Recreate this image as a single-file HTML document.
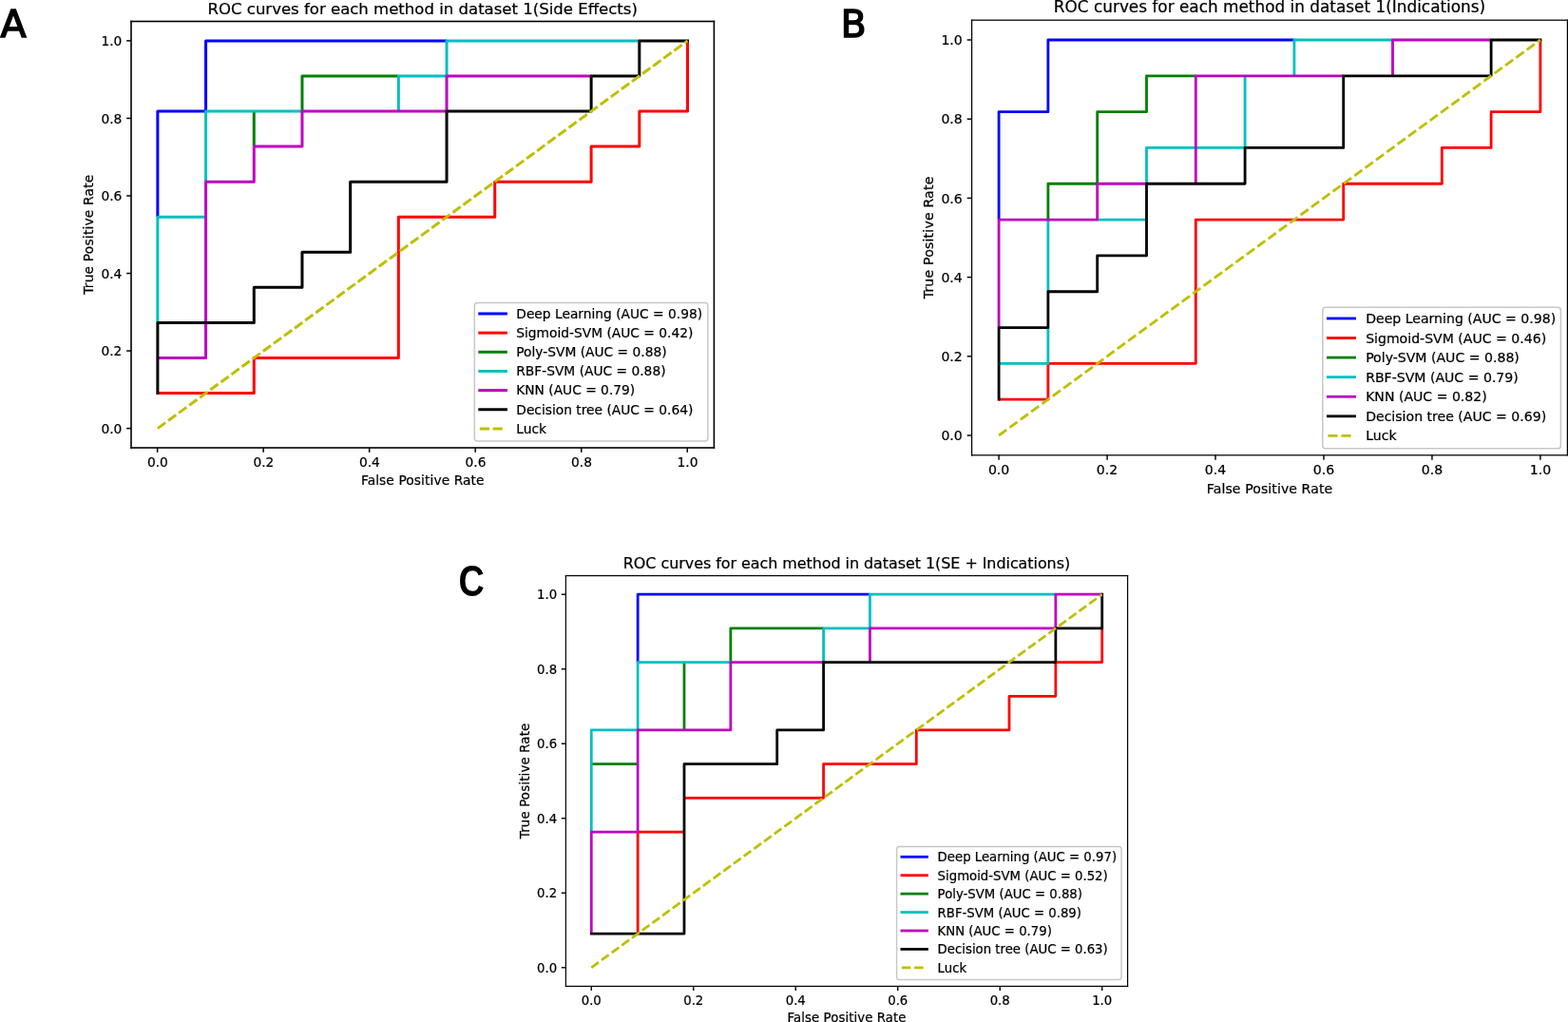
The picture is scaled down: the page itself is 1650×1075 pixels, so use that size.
<!DOCTYPE html>
<html lang="en">
<head>
<meta charset="utf-8">
<title>ROC curves for each method in dataset 1</title>
<style>
html,body{margin:0;padding:0;background:#fff;}
body{width:1650px;height:1075px;overflow:hidden;}
svg{display:block;position:absolute;left:0;top:0;}
text{white-space:pre;}
</style>
</head>
<body>
<svg width="1650" height="1075" viewBox="0 0 1650 1075">
<rect x="0" y="0" width="1650" height="1075" fill="#fff"/>
<!-- Panel A -->
<g>
<path d="M165.88 228.22 L165.88 117.02 L216.58 117.02 L216.58 42.89 L470.05 42.89" fill="none" stroke="#0000ff" stroke-width="3" stroke-linejoin="round"/>
<path d="M165.88 413.55 L267.27 413.55 L267.27 376.48 L419.35 376.48 L419.35 228.22 L520.74 228.22 L520.74 191.15 L622.13 191.15 L622.13 154.08 L672.82 154.08 L672.82 117.02 L723.52 117.02 L723.52 42.89" fill="none" stroke="#ff0000" stroke-width="3" stroke-linejoin="round"/>
<path d="M267.27 154.08 L267.27 117.02 M317.96 117.02 L317.96 79.95 L419.35 79.95" fill="none" stroke="#008000" stroke-width="3" stroke-linejoin="round"/>
<path d="M165.88 339.42 L165.88 228.22 L216.58 228.22 M216.58 191.15 L216.58 117.02 L317.96 117.02 M419.35 117.02 L419.35 79.95 L470.05 79.95 L470.05 42.89 L672.82 42.89" fill="none" stroke="#00bfbf" stroke-width="3" stroke-linejoin="round"/>
<path d="M165.88 376.48 L216.58 376.48 L216.58 191.15 L267.27 191.15 L267.27 154.08 L317.96 154.08 L317.96 117.02 L470.05 117.02 L470.05 79.95 L622.13 79.95" fill="none" stroke="#bf00bf" stroke-width="3" stroke-linejoin="round"/>
<path d="M165.88 415.05 L165.88 339.42 L267.27 339.42 L267.27 302.35 L317.96 302.35 L317.96 265.28 L368.66 265.28 L368.66 191.15 L470.05 191.15 L470.05 117.02 L622.13 117.02 L622.13 79.95 L672.82 79.95 L672.82 42.89 L725.02 42.89" fill="none" stroke="#000000" stroke-width="3" stroke-linejoin="round"/>
<path d="M165.88 450.61 L723.52 42.89" fill="none" stroke="#bfbf00" stroke-width="3" stroke-dasharray="10.2 3.54"/>
<g fill="#000">
<rect x="137.2" y="21.7" width="1.6" height="450.1"/>
<rect x="750.6" y="21.7" width="1.6" height="450.1"/>
<rect x="137.2" y="21.7" width="615" height="1.6"/>
<rect x="137.2" y="470.2" width="615" height="1.6"/>
</g>
<g stroke="#000" stroke-width="1.5">
<line x1="165.63" y1="471" x2="165.63" y2="475.83"/>
<line x1="138" y1="450.61" x2="133.17" y2="450.61"/>
<line x1="277.16" y1="471" x2="277.16" y2="475.83"/>
<line x1="138" y1="369.07" x2="133.17" y2="369.07"/>
<line x1="388.69" y1="471" x2="388.69" y2="475.83"/>
<line x1="138" y1="287.52" x2="133.17" y2="287.52"/>
<line x1="500.21" y1="471" x2="500.21" y2="475.83"/>
<line x1="138" y1="205.98" x2="133.17" y2="205.98"/>
<line x1="611.74" y1="471" x2="611.74" y2="475.83"/>
<line x1="138" y1="124.43" x2="133.17" y2="124.43"/>
<line x1="723.27" y1="471" x2="723.27" y2="475.83"/>
<line x1="138" y1="42.89" x2="133.17" y2="42.89"/>
</g>
<g font-family='"DejaVu Sans", "Liberation Sans", sans-serif' font-size="13.79" fill="#000" stroke="#000" stroke-width="0.22">
<text x="165.88" y="490.81" text-anchor="middle">0.0</text>
<text x="128.37" y="455.68" text-anchor="end">0.0</text>
<text x="277.41" y="490.81" text-anchor="middle">0.2</text>
<text x="128.37" y="374.13" text-anchor="end">0.2</text>
<text x="388.94" y="490.81" text-anchor="middle">0.4</text>
<text x="128.37" y="292.59" text-anchor="end">0.4</text>
<text x="500.46" y="490.81" text-anchor="middle">0.6</text>
<text x="128.37" y="211.04" text-anchor="end">0.6</text>
<text x="611.99" y="490.81" text-anchor="middle">0.8</text>
<text x="128.37" y="129.5" text-anchor="end">0.8</text>
<text x="723.52" y="490.81" text-anchor="middle">1.0</text>
<text x="128.37" y="47.95" text-anchor="end">1.0</text>
<text x="444.7" y="509.63" text-anchor="middle" textLength="129.65">False Positive Rate</text>
<text transform="translate(98.08 246.75) rotate(-90)" text-anchor="middle" textLength="126.05">True Positive Rate</text>
</g>
<text x="444.7" y="14.56" text-anchor="middle" font-family='"DejaVu Sans", "Liberation Sans", sans-serif' font-size="16.55" fill="#000" stroke="#000" stroke-width="0.22">ROC curves for each method in dataset 1(Side Effects)</text>
<rect x="499.3" y="318.55" width="245.6" height="145.55" rx="3.03" fill="#fff" fill-opacity="0.8" stroke="#c8c8c8" stroke-width="1.52"/>
<g font-family='"DejaVu Sans", "Liberation Sans", sans-serif' font-size="13.79" fill="#000" stroke="#000" stroke-width="0.22">
<line x1="504.82" y1="329.96" x2="532.4" y2="329.96" stroke="#0000ff" stroke-width="3" stroke-linecap="square"/>
<text x="543.28" y="334.83">Deep Learning (AUC = 0.98)</text>
<line x1="504.82" y1="350.12" x2="532.4" y2="350.12" stroke="#ff0000" stroke-width="3" stroke-linecap="square"/>
<text x="543.28" y="354.99">Sigmoid-SVM (AUC = 0.42)</text>
<line x1="504.82" y1="370.28" x2="532.4" y2="370.28" stroke="#008000" stroke-width="3" stroke-linecap="square"/>
<text x="543.28" y="375.15">Poly-SVM (AUC = 0.88)</text>
<line x1="504.82" y1="390.44" x2="532.4" y2="390.44" stroke="#00bfbf" stroke-width="3" stroke-linecap="square"/>
<text x="543.28" y="395.31">RBF-SVM (AUC = 0.88)</text>
<line x1="504.82" y1="410.6" x2="532.4" y2="410.6" stroke="#bf00bf" stroke-width="3" stroke-linecap="square"/>
<text x="543.28" y="415.47">KNN (AUC = 0.79)</text>
<line x1="504.82" y1="430.76" x2="532.4" y2="430.76" stroke="#000000" stroke-width="3" stroke-linecap="square"/>
<text x="543.28" y="435.63">Decision tree (AUC = 0.64)</text>
<line x1="504.82" y1="450.92" x2="532.4" y2="450.92" stroke="#bfbf00" stroke-width="3" stroke-dasharray="10.2 3.54"/>
<text x="543.28" y="455.79">Luck</text>
</g>
</g>
<text transform="translate(0.6 39.15) scale(1.0 1)" font-family='"DejaVu Sans", "Liberation Sans", sans-serif' font-size="39.7" fill="#000" stroke="#000" stroke-width="1.5" stroke-linejoin="miter">A</text>
<!-- Panel B -->
<g>
<path d="M1051.09 231.09 L1051.09 117.64 L1102.89 117.64 L1102.89 42 L1361.9 42" fill="none" stroke="#0000ff" stroke-width="2.82" stroke-linejoin="round"/>
<path d="M1051.09 420.18 L1102.89 420.18 L1102.89 382.36 L1258.3 382.36 L1258.3 231.09 L1413.7 231.09 L1413.7 193.27 L1517.31 193.27 L1517.31 155.45 L1569.11 155.45 L1569.11 117.64 L1620.91 117.64 L1620.91 42" fill="none" stroke="#ff0000" stroke-width="2.82" stroke-linejoin="round"/>
<path d="M1102.89 231.09 L1102.89 193.27 L1154.69 193.27 L1154.69 117.64 L1206.5 117.64 L1206.5 79.82 L1258.3 79.82" fill="none" stroke="#008000" stroke-width="2.82" stroke-linejoin="round"/>
<path d="M1051.09 382.36 L1102.89 382.36 L1102.89 344.55 M1102.89 306.73 L1102.89 231.09 M1154.69 231.09 L1206.5 231.09 M1206.5 193.27 L1206.5 155.45 L1310.1 155.45 L1310.1 79.82 M1361.9 79.82 L1361.9 42 L1465.5 42" fill="none" stroke="#00bfbf" stroke-width="2.82" stroke-linejoin="round"/>
<path d="M1051.09 344.55 L1051.09 231.09 L1154.69 231.09 L1154.69 193.27 L1206.5 193.27 M1258.3 193.27 L1258.3 79.82 L1413.7 79.82 M1465.5 79.82 L1465.5 42 L1569.11 42" fill="none" stroke="#bf00bf" stroke-width="2.82" stroke-linejoin="round"/>
<path d="M1051.09 421.59 L1051.09 344.55 L1102.89 344.55 L1102.89 306.73 L1154.69 306.73 L1154.69 268.91 L1206.5 268.91 L1206.5 193.27 L1310.1 193.27 L1310.1 155.45 L1413.7 155.45 L1413.7 79.82 L1569.11 79.82 L1569.11 42 L1622.32 42" fill="none" stroke="#000000" stroke-width="2.82" stroke-linejoin="round"/>
<path d="M1051.09 458 L1620.91 42" fill="none" stroke="#bfbf00" stroke-width="2.82" stroke-dasharray="10.1 3.94"/>
<g fill="#000">
<rect x="1021.98" y="20.57" width="1.25" height="458.85"/>
<rect x="1648.78" y="20.57" width="1.25" height="458.85"/>
<rect x="1021.98" y="20.57" width="628.05" height="1.25"/>
<rect x="1021.98" y="478.18" width="628.05" height="1.25"/>
</g>
<g stroke="#000" stroke-width="1.45">
<line x1="1051.09" y1="478.8" x2="1051.09" y2="483.73"/>
<line x1="1022.6" y1="458" x2="1017.67" y2="458"/>
<line x1="1165.05" y1="478.8" x2="1165.05" y2="483.73"/>
<line x1="1022.6" y1="374.8" x2="1017.67" y2="374.8"/>
<line x1="1279.02" y1="478.8" x2="1279.02" y2="483.73"/>
<line x1="1022.6" y1="291.6" x2="1017.67" y2="291.6"/>
<line x1="1392.98" y1="478.8" x2="1392.98" y2="483.73"/>
<line x1="1022.6" y1="208.4" x2="1017.67" y2="208.4"/>
<line x1="1506.95" y1="478.8" x2="1506.95" y2="483.73"/>
<line x1="1022.6" y1="125.2" x2="1017.67" y2="125.2"/>
<line x1="1620.91" y1="478.8" x2="1620.91" y2="483.73"/>
<line x1="1022.6" y1="42" x2="1017.67" y2="42"/>
</g>
<g font-family='"DejaVu Sans", "Liberation Sans", sans-serif' font-size="14.08" fill="#000" stroke="#000" stroke-width="0.22">
<text x="1051.09" y="499.37" text-anchor="middle">0.0</text>
<text x="1012.77" y="463.17" text-anchor="end">0.0</text>
<text x="1165.05" y="499.37" text-anchor="middle">0.2</text>
<text x="1012.77" y="379.97" text-anchor="end">0.2</text>
<text x="1279.02" y="499.37" text-anchor="middle">0.4</text>
<text x="1012.77" y="296.77" text-anchor="end">0.4</text>
<text x="1392.98" y="499.37" text-anchor="middle">0.6</text>
<text x="1012.77" y="213.57" text-anchor="end">0.6</text>
<text x="1506.95" y="499.37" text-anchor="middle">0.8</text>
<text x="1012.77" y="130.37" text-anchor="end">0.8</text>
<text x="1620.91" y="499.37" text-anchor="middle">1.0</text>
<text x="1012.77" y="47.17" text-anchor="end">1.0</text>
<text x="1336" y="519.03" text-anchor="middle" textLength="132.31">False Positive Rate</text>
<text transform="translate(981.86 250) rotate(-90)" text-anchor="middle" textLength="128.64">True Positive Rate</text>
</g>
<text x="1336" y="13.09" text-anchor="middle" font-family='"DejaVu Sans", "Liberation Sans", sans-serif' font-size="16.89" fill="#000" stroke="#000" stroke-width="0.22">ROC curves for each method in dataset 1(Indications)</text>
<rect x="1391.8" y="323.3" width="250.6" height="148.5" rx="3.1" fill="#fff" fill-opacity="0.8" stroke="#c8c8c8" stroke-width="1.55"/>
<g font-family='"DejaVu Sans", "Liberation Sans", sans-serif' font-size="14.08" fill="#000" stroke="#000" stroke-width="0.22">
<line x1="1397.43" y1="334.96" x2="1425.58" y2="334.96" stroke="#0000ff" stroke-width="2.82" stroke-linecap="square"/>
<text x="1437.14" y="339.93">Deep Learning (AUC = 0.98)</text>
<line x1="1397.43" y1="355.53" x2="1425.58" y2="355.53" stroke="#ff0000" stroke-width="2.82" stroke-linecap="square"/>
<text x="1437.14" y="360.5">Sigmoid-SVM (AUC = 0.46)</text>
<line x1="1397.43" y1="376.1" x2="1425.58" y2="376.1" stroke="#008000" stroke-width="2.82" stroke-linecap="square"/>
<text x="1437.14" y="381.07">Poly-SVM (AUC = 0.88)</text>
<line x1="1397.43" y1="396.67" x2="1425.58" y2="396.67" stroke="#00bfbf" stroke-width="2.82" stroke-linecap="square"/>
<text x="1437.14" y="401.64">RBF-SVM (AUC = 0.79)</text>
<line x1="1397.43" y1="417.24" x2="1425.58" y2="417.24" stroke="#bf00bf" stroke-width="2.82" stroke-linecap="square"/>
<text x="1437.14" y="422.21">KNN (AUC = 0.82)</text>
<line x1="1397.43" y1="437.81" x2="1425.58" y2="437.81" stroke="#000000" stroke-width="2.82" stroke-linecap="square"/>
<text x="1437.14" y="442.78">Decision tree (AUC = 0.69)</text>
<line x1="1397.43" y1="458.38" x2="1425.58" y2="458.38" stroke="#bfbf00" stroke-width="2.82" stroke-dasharray="10.1 3.94"/>
<text x="1437.14" y="463.35">Luck</text>
</g>
</g>
<text transform="translate(884.8 39.15) scale(0.985 1)" font-family='"DejaVu Sans", "Liberation Sans", sans-serif' font-size="39.7" fill="#000" stroke="#000" stroke-width="1.5" stroke-linejoin="miter">B</text>
<!-- Panel C -->
<g>
<path d="M671.13 696.6 L671.13 625.23 L915.43 625.23" fill="none" stroke="#0000ff" stroke-width="2.78" stroke-linejoin="round"/>
<path d="M671.13 982.09 L671.13 875.03 L719.99 875.03 M719.99 839.34 L866.57 839.34 L866.57 803.66 L964.29 803.66 L964.29 767.97 L1062.01 767.97 L1062.01 732.29 L1110.87 732.29 L1110.87 696.6 L1159.73 696.6 L1159.73 660.91" fill="none" stroke="#ff0000" stroke-width="2.78" stroke-linejoin="round"/>
<path d="M622.27 803.66 L671.13 803.66 M719.99 767.97 L719.99 696.6 M768.85 696.6 L768.85 660.91 L866.57 660.91" fill="none" stroke="#008000" stroke-width="2.78" stroke-linejoin="round"/>
<path d="M622.27 875.03 L622.27 767.97 L671.13 767.97 L671.13 696.6 L768.85 696.6 M866.57 696.6 L866.57 660.91 L915.43 660.91 L915.43 625.23 L1110.87 625.23" fill="none" stroke="#00bfbf" stroke-width="2.78" stroke-linejoin="round"/>
<path d="M622.27 982.09 L622.27 875.03 L671.13 875.03 L671.13 767.97 L768.85 767.97 L768.85 696.6 L866.57 696.6 M915.43 696.6 L915.43 660.91 L1110.87 660.91 L1110.87 625.23 L1159.73 625.23" fill="none" stroke="#bf00bf" stroke-width="2.78" stroke-linejoin="round"/>
<path d="M620.88 982.09 L719.99 982.09 L719.99 803.66 L817.71 803.66 L817.71 767.97 L866.57 767.97 L866.57 696.6 L1110.87 696.6 L1110.87 660.91 L1159.73 660.91 L1159.73 623.84" fill="none" stroke="#000000" stroke-width="2.78" stroke-linejoin="round"/>
<path d="M622.27 1017.77 L1159.73 625.23" fill="none" stroke="#bfbf00" stroke-width="2.78" stroke-dasharray="9.55 3.69"/>
<g fill="#000">
<rect x="594.8" y="605" width="1.2" height="433"/>
<rect x="1186" y="605" width="1.2" height="433"/>
<rect x="594.8" y="605" width="592.4" height="1.2"/>
<rect x="594.8" y="1036.8" width="592.4" height="1.2"/>
</g>
<g stroke="#000" stroke-width="1.4">
<line x1="622.27" y1="1037.4" x2="622.27" y2="1042.05"/>
<line x1="595.4" y1="1017.77" x2="590.75" y2="1017.77"/>
<line x1="729.76" y1="1037.4" x2="729.76" y2="1042.05"/>
<line x1="595.4" y1="939.26" x2="590.75" y2="939.26"/>
<line x1="837.25" y1="1037.4" x2="837.25" y2="1042.05"/>
<line x1="595.4" y1="860.75" x2="590.75" y2="860.75"/>
<line x1="944.75" y1="1037.4" x2="944.75" y2="1042.05"/>
<line x1="595.4" y1="782.25" x2="590.75" y2="782.25"/>
<line x1="1052.24" y1="1037.4" x2="1052.24" y2="1042.05"/>
<line x1="595.4" y1="703.74" x2="590.75" y2="703.74"/>
<line x1="1159.73" y1="1037.4" x2="1159.73" y2="1042.05"/>
<line x1="595.4" y1="625.23" x2="590.75" y2="625.23"/>
</g>
<g font-family='"DejaVu Sans", "Liberation Sans", sans-serif' font-size="13.28" fill="#000" stroke="#000" stroke-width="0.22">
<text x="622.27" y="1056.81" text-anchor="middle">0.0</text>
<text x="586.12" y="1022.65" text-anchor="end">0.0</text>
<text x="729.76" y="1056.81" text-anchor="middle">0.2</text>
<text x="586.12" y="944.14" text-anchor="end">0.2</text>
<text x="837.25" y="1056.81" text-anchor="middle">0.4</text>
<text x="586.12" y="865.63" text-anchor="end">0.4</text>
<text x="944.75" y="1056.81" text-anchor="middle">0.6</text>
<text x="586.12" y="787.12" text-anchor="end">0.6</text>
<text x="1052.24" y="1056.81" text-anchor="middle">0.8</text>
<text x="586.12" y="708.61" text-anchor="end">0.8</text>
<text x="1159.73" y="1056.81" text-anchor="middle">1.0</text>
<text x="586.12" y="630.1" text-anchor="end">1.0</text>
<text x="891" y="1074.6" text-anchor="middle" textLength="124.87">False Positive Rate</text>
<text transform="translate(556.95 821.5) rotate(-90)" text-anchor="middle" textLength="121.4">True Positive Rate</text>
</g>
<text x="891" y="597.95" text-anchor="middle" textLength="470.3" font-family='"DejaVu Sans", "Liberation Sans", sans-serif' font-size="15.94" fill="#000" stroke="#000" stroke-width="0.22">ROC curves for each method in dataset 1(SE + Indications)</text>
<rect x="943.6" y="890.6" width="236.45" height="139.9" rx="2.92" fill="#fff" fill-opacity="0.8" stroke="#c8c8c8" stroke-width="1.46"/>
<g font-family='"DejaVu Sans", "Liberation Sans", sans-serif' font-size="13.28" fill="#000" stroke="#000" stroke-width="0.22">
<line x1="948.91" y1="901.3" x2="975.48" y2="901.3" stroke="#0000ff" stroke-width="2.78" stroke-linecap="square"/>
<text x="986.61" y="906.37">Deep Learning (AUC = 0.97)</text>
<line x1="948.91" y1="920.72" x2="975.48" y2="920.72" stroke="#ff0000" stroke-width="2.78" stroke-linecap="square"/>
<text x="986.61" y="925.79">Sigmoid-SVM (AUC = 0.52)</text>
<line x1="948.91" y1="940.14" x2="975.48" y2="940.14" stroke="#008000" stroke-width="2.78" stroke-linecap="square"/>
<text x="986.61" y="945.21">Poly-SVM (AUC = 0.88)</text>
<line x1="948.91" y1="959.56" x2="975.48" y2="959.56" stroke="#00bfbf" stroke-width="2.78" stroke-linecap="square"/>
<text x="986.61" y="964.63">RBF-SVM (AUC = 0.89)</text>
<line x1="948.91" y1="978.98" x2="975.48" y2="978.98" stroke="#bf00bf" stroke-width="2.78" stroke-linecap="square"/>
<text x="986.61" y="984.05">KNN (AUC = 0.79)</text>
<line x1="948.91" y1="998.4" x2="975.48" y2="998.4" stroke="#000000" stroke-width="2.78" stroke-linecap="square"/>
<text x="986.61" y="1003.47">Decision tree (AUC = 0.63)</text>
<line x1="948.91" y1="1017.82" x2="975.48" y2="1017.82" stroke="#bfbf00" stroke-width="2.78" stroke-dasharray="9.55 3.69"/>
<text x="986.61" y="1022.89">Luck</text>
</g>
</g>
<text transform="translate(482.4 627.1) scale(0.827 1)" font-family='"Liberation Sans", "DejaVu Sans", sans-serif' font-weight="bold" font-size="45.6" fill="#000">C</text>
</svg>
</body>
</html>
